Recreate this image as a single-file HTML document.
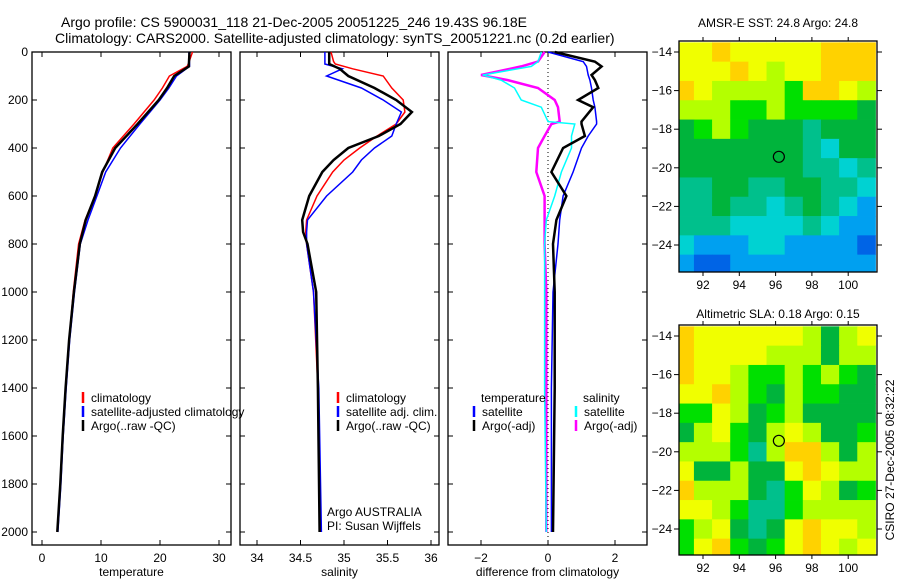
<!DOCTYPE html>
<html><head><meta charset="utf-8"><style>
body{margin:0;background:#fff}
svg{display:block;font-family:"Liberation Sans",sans-serif}
</style></head><body>
<svg id="s" width="900" height="580" xmlns="http://www.w3.org/2000/svg">
<text x="61" y="27" font-size="14">Argo profile: CS 5900031_118 21-Dec-2005 20051225_246 19.43S 96.18E</text>
<text x="55" y="43" font-size="14">Climatology: CARS2000. Satellite-adjusted climatology: synTS_20051221.nc (0.2d earlier)</text>
<text x="778" y="27" font-size="12" text-anchor="middle">AMSR-E SST: 24.8 Argo: 24.8</text>
<text x="778" y="318" font-size="12" text-anchor="middle">Altimetric SLA: 0.18 Argo: 0.15</text>
<text transform="translate(894,460) rotate(-90)" font-size="12" text-anchor="middle">CSIRO 27-Dec-2005 08:32:22</text>
<g id="g"></g>
</svg>
<script>
// depths
const depthT=[0,50,60,100,150,200,300,400,500,600,700,800,1000,1200,1400,1600,1800,2000];
const tempClim=[25.5,24.8,24.6,21.6,20.4,19,15.6,12,10.3,9,7.3,6.2,5.3,4.6,4,3.5,3.1,2.6];
const tempSat=[24.9,25,25,22.8,21.5,20,16.6,13.3,10.8,9.3,7.8,6.5,5.5,4.7,4.1,3.6,3.2,2.7];
const tempArgo=[25,24.9,24.9,22.4,21.2,19.8,16.2,12.4,10.2,9,7.4,6.4,5.4,4.6,4,3.5,3.1,2.6];
const depthS=[0,40,50,70,100,150,200,250,300,350,400,450,500,600,700,750,800,1000,1400,2000];
const salClim=[34.85,34.88,34.9,35.1,35.45,35.55,35.68,35.7,35.6,35.38,35.18,35.0,34.87,34.69,34.57,34.56,34.57,34.65,34.7,34.73];
const salSat=[34.78,34.78,34.78,34.98,34.8,35.2,35.45,35.66,35.6,35.55,35.35,35.2,35.1,34.8,34.58,34.57,34.57,34.65,34.71,34.74];
const salArgo=[34.83,34.83,34.83,34.95,35.05,35.35,35.6,35.78,35.65,35.4,35.05,34.88,34.75,34.6,34.52,34.53,34.58,34.68,34.7,34.72];
const depthD=[0,40,60,96,117,150,200,230,290,300,350,400,500,600,700,800,1000,1400,2000];
const dTempSat=[0,1.05,1.15,1.2,1.25,1.3,1.35,1.4,1.45,1.45,1.2,1.0,0.75,0.45,0.35,0.3,0.15,0.1,0.1];
const dTempArgo=[0.2,1.4,1.6,1.3,1.4,1.5,0.9,1.35,1.0,1.0,1.1,0.45,0.1,0.55,0.25,0.15,0.2,0.2,0.15];
const dSalSat=[-0.2,-0.3,-0.5,-1.95,-1.4,-1.0,-0.8,-0.2,0,0.8,0.7,0.7,0.4,0.2,-0.05,-0.1,-0.1,-0.1,-0.05];
const dSalArgo=[-0.1,-0.3,-0.8,-2.0,-1.2,-0.3,0.2,0.3,0.35,0.1,-0.1,-0.3,-0.35,-0.1,-0.1,-0.1,-0.05,-0.05,-0.05];
const depthTicks=[0,200,400,600,800,1000,1200,1400,1600,1800,2000];
const tempTicks=[0,10,20,30];
const salTicks=["34","34.5","35","35.5","36"];
const diffTicks=[-2,0,2];
const latTicks=[-14,-16,-18,-20,-22,-24];
const lonTicks=[92,94,96,98,100];
const sstGrid=[
[7,7,8,7,7,7,7,7,8,8,8],[7,7,7,8,7,6,7,7,8,8,8],[8,7,6,6,6,6,5,8,8,7,6],[6,6,6,5,5,6,5,5,5,5,4],
[4,5,6,5,4,4,4,3,4,4,4],[4,4,4,4,4,4,4,3,2,4,4],[4,4,4,4,4,4,4,3,3,2,3],[3,3,4,4,3,3,4,4,3,3,2],
[3,3,4,3,3,2,3,4,3,2,1],[3,3,3,2,2,2,2,3,2,1,1],[2,1,1,1,2,2,1,1,1,1,0],[1,0,0,1,1,1,1,1,1,1,1]];
const slaGrid=[
[8,7,7,7,7,7,7,6,4,6,7],[8,7,7,7,7,6,6,6,4,6,6],[8,7,7,6,5,5,6,5,6,5,4],[7,7,8,6,5,4,6,5,5,4,4],
[5,5,7,6,4,5,6,4,4,4,4],[4,6,7,5,4,6,7,6,4,4,5],[6,6,6,5,3,6,8,8,6,4,6],[7,4,4,6,4,4,7,8,7,6,6],
[8,6,6,6,4,3,5,7,6,4,5],[7,7,6,5,3,3,5,6,6,6,6],[5,6,7,4,3,4,7,8,7,7,6],[5,7,8,5,4,5,7,8,7,6,7]];
const argoLon=96.18, argoLat=-19.43;
const ramp=["#0064e6","#00a0f0","#00d2d2","#00c08c","#00b43c","#00e000","#b4ff00","#f0ff00","#ffd200"];

const NS="http://www.w3.org/2000/svg";
const G=document.getElementById('g');
function el(t,a,p){const e=document.createElementNS(NS,t);for(const k in a)e.setAttribute(k,a[k]);(p||G).appendChild(e);return e;}
const yD=d=>52+d*0.24;
function panel(name,x0,x1,xs,ticks,labels,xlabel,showY){
  const g=el('g',{});
  
  
  const r=el('rect',{x:x0,y:52,width:x1-x0,height:493,fill:'none',stroke:'#000','stroke-width':1.3},g);
  
  
  ticks.forEach((v,i)=>{const x=xs(v);
    el('line',{x1:x,x2:x,y1:52,y2:57,stroke:'#000'},g);
    el('line',{x1:x,x2:x,y1:545,y2:540,stroke:'#000'},g);
    const t=el('text',{x:x,y:562,'font-size':12,'text-anchor':'middle'},g);t.textContent=labels[i];
    
    });
  depthTicks.forEach(d=>{const y=yD(d);
    el('line',{x1:x0,x2:x0+5,y1:y,y2:y,stroke:'#000'},g);
    el('line',{x1:x1,x2:x1-5,y1:y,y2:y,stroke:'#000'},g);
    if(showY){const t=el('text',{x:28,y:y+4,'font-size':12,'text-anchor':'end'},g);t.textContent=d;
      
      }});
  const xl=el('text',{x:(x0+x1)/2,y:576,'font-size':12,'text-anchor':'middle'},g);xl.textContent=xlabel;
  
  
  return g;
}
function line(g,name,xs,vals,depths,col,w){
  const p=el('polyline',{points:vals.map((v,i)=>xs(v).toFixed(1)+','+yD(depths[i]).toFixed(1)).join(' '),fill:'none',stroke:col,'stroke-width':w},g);
  
  
}
function legend(g,x,y,col,txt){
  el('line',{x1:x,x2:x,y1:y-10,y2:y+1,stroke:col,'stroke-width':2.5},g);
  const t=el('text',{x:x+8,y:y,'font-size':12},g);t.textContent=txt;
  
  
}
// panel 1
const xT=v=>42+v*5.9;
let g1=panel('temperature-panel',32,231,xT,tempTicks,tempTicks.map(String),'temperature',true);
line(g1,'temp-climatology-line',xT,tempClim,depthT,'#f00',1.5);
line(g1,'temp-satellite-line',xT,tempSat,depthT,'#00f',1.5);
line(g1,'temp-argo-line',xT,tempArgo,depthT,'#000',2.5);
legend(g1,83,402,'#f00','climatology');legend(g1,83,416,'#00f','satellite-adjusted climatology');legend(g1,83,430,'#000','Argo(..raw -QC)');
// panel 2
const xS=v=>257+(v-34)*87;
let g2=panel('salinity-panel',240,439,xS,salTicks.map(Number),salTicks,'salinity',false);
line(g2,'sal-climatology-line',xS,salClim,depthS,'#f00',1.5);
line(g2,'sal-satellite-line',xS,salSat,depthS,'#00f',1.5);
line(g2,'sal-argo-line',xS,salArgo,depthS,'#000',2.5);
legend(g2,338,402,'#f00','climatology');legend(g2,338,416,'#00f','satellite adj. clim.');legend(g2,338,430,'#000','Argo(..raw -QC)');
let t1=el('text',{x:327,y:516,'font-size':12},g2);t1.textContent='Argo AUSTRALIA';


let t2=el('text',{x:327,y:530,'font-size':12},g2);t2.textContent='PI: Susan Wijffels';


// panel 3
const xDf=v=>548+v*33.5;
let g3=panel('difference-panel',448,647,xDf,diffTicks,diffTicks.map(v=>v<0?'−'+Math.abs(v):String(v)),'difference from climatology',false);
el('line',{x1:xDf(0),x2:xDf(0),y1:52,y2:545,stroke:'#000','stroke-dasharray':'1,3'},g3);
line(g3,'diff-sal-argo-line',xDf,dSalArgo,depthD,'#f0f',2.5);
line(g3,'diff-sal-sat-line',xDf,dSalSat,depthD,'#0ff',1.5);
line(g3,'diff-temp-sat-line',xDf,dTempSat,depthD,'#00f',1.5);
line(g3,'diff-temp-argo-line',xDf,dTempArgo,depthD,'#000',2.5);
let tt=el('text',{x:481,y:402,'font-size':12},g3);tt.textContent='temperature';


let ts=el('text',{x:583,y:402,'font-size':12},g3);ts.textContent='salinity';


legend(g3,474,416,'#00f','satellite');legend(g3,474,430,'#000','Argo(-adj)');
legend(g3,576,416,'#0ff','satellite');legend(g3,576,430,'#f0f','Argo(-adj)');
// maps
function map(name,grid,top,bottom,lat14){
  const g=el('g',{});
  
  
  const xL=v=>703+(v-92)*18.15, yL=v=>lat14+(-14-v)*19.3;
  const cid=name+'-clip';
  const cp=el('clipPath',{id:cid},g);el('rect',{x:679,y:top,width:198,height:bottom-top},cp);
  const cg=el('g',{'clip-path':'url(#'+cid+')'},g);
  grid.forEach((row,r)=>row.forEach((v,c)=>{
    const lo=91+c, la=-14-r;
    const rc=el('rect',{x:xL(lo-0.5),y:yL(la+0.5),width:18.6,height:19.7,fill:ramp[v]},cg);
    
    
  }));
  el('rect',{x:679,y:top,width:198,height:bottom-top,fill:'none',stroke:'#000','stroke-width':1.3},g);
  latTicks.forEach(v=>{const y=yL(v);el('line',{x1:679,x2:674,y1:y,y2:y,stroke:'#000'},g);el('line',{x1:877,x2:882,y1:y,y2:y,stroke:'#000'},g);
    const t=el('text',{x:672,y:y+4,'font-size':12,'text-anchor':'end'},g);t.textContent='−'+Math.abs(v);
    
    });
  lonTicks.forEach(v=>{const x=xL(v);el('line',{x1:x,x2:x,y1:top,y2:top-4,stroke:'#000'},g);el('line',{x1:x,x2:x,y1:bottom,y2:bottom+4,stroke:'#000'},g);
    const t=el('text',{x:x,y:bottom+17,'font-size':12,'text-anchor':'middle'},g);t.textContent=v;
    
    });
  const c=el('circle',{cx:xL(argoLon),cy:yL(argoLat),r:5.5,fill:'none',stroke:'#000','stroke-width':1.2},g);
  
  
}
map('sst-map',sstGrid,41,272,52);
map('sla-map',slaGrid,325,555,336);
</script>
</body></html>
